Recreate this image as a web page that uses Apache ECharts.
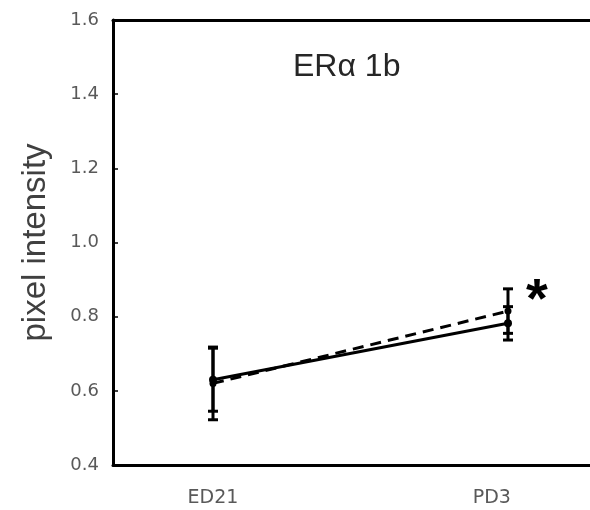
<!DOCTYPE html>
<html>
<head>
<meta charset="utf-8">
<script src="https://cdn.jsdelivr.net/npm/echarts@6/dist/echarts.min.js"></script>
<style>html,body{margin:0;padding:0;background:#fff}#c{width:590px;height:510px}</style>
</head>
<body>
<div id="c"></div>
<script>
const categories = ['ED21', 'PD3'];
const solidMean = [0.63, 0.782];
const solidErr = [0.085, 0.045];
const dashedMean = [0.62, 0.815];
const dashedErr = [0.098, 0.06];
const yMin = 0.4, yMax = 1.6, yStep = 0.2;
const titleText = 'ERα 1b';
const yName = 'pixel intensity';
const sigMark = '*';

const xPos = categories.map((c, i) => i + 1);
const solidData = xPos.map((x, i) => [x, solidMean[i]]);
const dashedData = xPos.map((x, i) => [x, dashedMean[i]]);
const errData = [];
xPos.forEach((x, i) => {
  errData.push([x, solidMean[i] - solidErr[i], solidMean[i] + solidErr[i]]);
  errData.push([x, dashedMean[i] - dashedErr[i], dashedMean[i] + dashedErr[i]]);
});

const xMin = 0.661, xMax = 2.278;

const chart = echarts.init(document.getElementById('c'));
chart.setOption({
  animation: false,
  backgroundColor: '#fff',
  title: {
    text: titleText, left: 288, top: 46,
    textStyle: { fontFamily: 'Liberation Sans', fontSize: 32, fontWeight: 'normal', color: '#262626' }
  },
  grid: { left: 113, top: 20, right: 0, bottom: 45, show: false, containLabel: false },
  xAxis: [{
    type: 'value', min: xMin, max: xMax,
    splitLine: { show: false },
    axisLine: { show: true, onZero: false, lineStyle: { color: '#000', width: 3 } },
    axisTick: { show: false },
    axisLabel: {
      customValues: [1, 1.945],
      margin: 24,
      color: '#595959', fontFamily: 'DejaVu Sans', fontSize: 19,
      formatter: v => categories[Math.round(v) - 1] || ''
    }
  }, {
    type: 'value', position: 'top', min: xMin, max: xMax,
    splitLine: { show: false },
    axisLine: { show: true, onZero: false, lineStyle: { color: '#000', width: 3 } },
    axisTick: { show: false },
    axisLabel: { show: false }
  }],
  yAxis: {
    type: 'value', min: yMin, max: yMax, interval: yStep,
    name: yName, nameLocation: 'middle', nameGap: 61, nameRotate: 90,
    nameTextStyle: { fontFamily: 'Liberation Sans', fontSize: 33, color: '#404040' },
    splitLine: { show: false },
    axisLine: { show: true, onZero: false, lineStyle: { color: '#000', width: 3 } },
    axisTick: { show: true, inside: true, length: 5, lineStyle: { color: '#000', width: 1.5 } },
    axisLabel: { margin: 14, color: '#595959', fontFamily: 'DejaVu Sans', fontSize: 18, formatter: v => v.toFixed(1) }
  },
  graphic: [{
    type: 'text', left: 526, top: 274,
    style: { text: sigMark, fontSize: 56, fontWeight: 'bold', fontFamily: 'Liberation Sans', fill: '#000' }
  }],
  series: [
    {
      type: 'custom', data: errData, z: 3,
      renderItem: function (params, api) {
        const x = api.value(0);
        const lo = api.coord([x, api.value(1)]);
        const hi = api.coord([x, api.value(2)]);
        const cw = 5;
        const st = { stroke: '#000', lineWidth: 3 };
        return {
          type: 'group', children: [
            { type: 'line', shape: { x1: lo[0], y1: lo[1], x2: hi[0], y2: hi[1] }, style: st },
            { type: 'line', shape: { x1: lo[0] - cw, y1: lo[1], x2: lo[0] + cw, y2: lo[1] }, style: st },
            { type: 'line', shape: { x1: hi[0] - cw, y1: hi[1], x2: hi[0] + cw, y2: hi[1] }, style: st }
          ]
        };
      }
    },
    {
      type: 'line', data: solidData, z: 4,
      symbol: 'circle', symbolSize: 8,
      lineStyle: { color: '#000', width: 3 },
      itemStyle: { color: '#000' }
    },
    {
      type: 'line', data: dashedData, z: 4,
      symbol: 'circle', symbolSize: 7,
      lineStyle: { color: '#000', width: 3, type: [11, 7] },
      itemStyle: { color: '#000' }
    }
  ]
});
</script>
</body>
</html>
